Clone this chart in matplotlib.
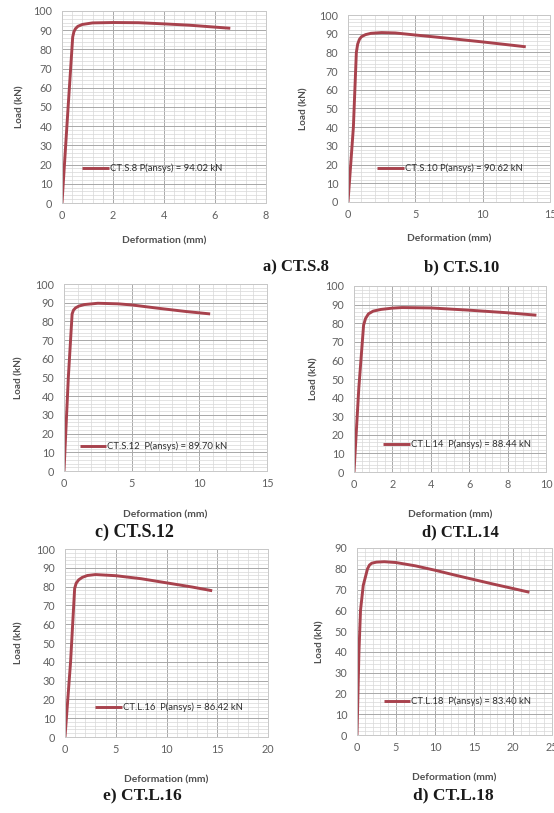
import matplotlib
matplotlib.use("Agg")
import matplotlib.pyplot as plt
from matplotlib.ticker import MultipleLocator

# ---- data ----
a_def = [0, 0.24, 0.42, 0.47, 0.53, 0.62, 0.8, 1.2, 2.0, 3.0, 4.0, 5.0, 6.0, 6.6]
a_load = [0, 50, 86.5, 89.3, 90.8, 92, 93, 93.8, 94.0, 93.9, 93.3, 92.6, 91.6, 91.0]
b_def = [0, 0.4, 0.62, 0.72, 0.85, 1.0, 1.3, 1.7, 2.5, 3.5, 5, 7.5, 10, 13.2]
b_load = [0, 40, 80, 84.5, 87, 88.4, 89.5, 90.2, 90.6, 90.4, 89.3, 87.5, 85.6, 83.0]
c_def = [0, 0.32, 0.6, 0.7, 0.85, 1.1, 1.5, 2.5, 4, 5, 7, 9, 10.8]
c_load = [0, 50, 84, 86, 87.2, 88.2, 89, 89.7, 89.4, 88.8, 87, 85.3, 84.0]
d_def = [0, 0.25, 0.5, 0.6, 0.75, 1.0, 1.4, 2.0, 2.5, 4, 6, 8, 9.5]
d_load = [0, 45, 79, 82.5, 85, 86.5, 87.4, 88.1, 88.4, 88.2, 87, 85.6, 84.3]
e_def = [0, 0.55, 0.95, 1.1, 1.35, 1.7, 2.2, 3, 5, 7.5, 10, 12.5, 14.5]
e_load = [0, 40, 79, 81.8, 83.6, 84.9, 85.9, 86.4, 85.8, 84.2, 82.0, 79.8, 77.8]
f_def = [0, 0.25, 0.45, 0.8, 1.35, 1.6, 1.9, 2.5, 3.5, 5, 7.5, 10, 12.5, 15, 17.5, 20, 22.1]
f_load = [0, 40, 60, 72, 80, 81.8, 82.7, 83.2, 83.4, 83.0, 81.4, 79.3, 77.0, 74.8, 72.6, 70.5, 68.7]

labels = ["CT.S.8 P(ansys) = 94.02 kN", "CT.S.10 P(ansys) = 90.62 kN",
          "CT.S.12  P(ansys) = 89.70 kN", "CT.L.14  P(ansys) = 88.44 kN",
          "CT.L.16  P(ansys) = 86.42 kN", "CT.L.18  P(ansys) = 83.40 kN"]
captions = ["a) CT.S.8", "b) CT.S.10", "c) CT.S.12", "d) CT.L.14", "e) CT.L.16", "d) CT.L.18"]
xmax = [8, 15, 15, 10, 20, 25]
xstep = [2, 5, 5, 2, 5, 5]
ymax = [100, 100, 100, 100, 100, 90]

series = [(a_def, a_load), (b_def, b_load), (c_def, c_load),
          (d_def, d_load), (e_def, e_load), (f_def, f_load)]

W, H = 554, 813
# axes boxes in pixels: left, right, top, bottom
boxes = [(62, 266, 11, 203), (348, 550, 15, 202), (64, 267, 284, 471),
         (354, 546, 286, 472), (65, 268, 549, 737), (357, 552, 548, 735)]
ylab_x = [24, 308, 23, 318, 23, 324]
xlab_y = [236, 234, 510, 510, 775, 773]
leg_pos = [(0.10, 0.18), (0.145, 0.18), (0.079, 0.13), (0.153, 0.15), (0.15, 0.157), (0.137, 0.18)]
cap_pos = [(296, 267), (462, 267), (134, 532), (460, 532), (142, 796), (453, 795)]
cap_size = [12, 12, 13, 12, 12.5, 12.5]

fig = plt.figure(figsize=(W / 100, H / 100), dpi=100)
font = "Lato"
tick_col = "#606060"
line_col = "#a8424d"

for i in range(6):
    l, r, t, b = boxes[i]
    ax = fig.add_axes([l / W, 1 - b / H, (r - l) / W, (b - t) / H])
    x, y = series[i]
    ax.plot(x, y, color=line_col, lw=2.1, label=labels[i], solid_capstyle="butt",
            solid_joinstyle="round")
    ax.set_xlim(0, xmax[i])
    ax.set_ylim(0, ymax[i])
    ax.xaxis.set_major_locator(MultipleLocator(xstep[i]))
    ax.xaxis.set_minor_locator(MultipleLocator(xstep[i] / 5))
    ax.yaxis.set_major_locator(MultipleLocator(10))
    ax.yaxis.set_minor_locator(MultipleLocator(2))
    ax.grid(which="major", color="#a8a8a8", lw=0.7)
    ax.grid(which="minor", color="#d8d8d8", lw=0.5)
    ax.set_axisbelow(True)
    for s in ax.spines.values():
        s.set_color("#c8c8c8")
        s.set_linewidth(0.7)
    ax.tick_params(which="both", length=0, labelsize=7.8, labelcolor=tick_col)
    ax.tick_params(axis="y", pad=7)
    ax.tick_params(axis="x", pad=5)
    for lab in ax.get_xticklabels() + ax.get_yticklabels():
        lab.set_fontfamily(font)
    ax.set_xlabel("Deformation (mm)", fontsize=7.4, fontweight="bold", color="#505050", family=font)
    ax.set_ylabel("Load (kN)", fontsize=7.2, fontweight="bold", color="#505050", family=font)
    ax.yaxis.set_label_coords((ylab_x[i] - l) / (r - l), 0.5)
    ax.xaxis.set_label_coords(0.5, (b - xlab_y[i]) / (b - t))
    leg = ax.legend(loc="center left", bbox_to_anchor=leg_pos[i], frameon=False,
                    borderpad=0, borderaxespad=0, handlelength=2.8, handletextpad=0.1,
                    prop={"family": font, "size": 6.8})
    for txt in leg.get_texts():
        txt.set_color("#303030")
    cx, cy = cap_pos[i]
    fig.text(cx / W, 1 - cy / H, captions[i], ha="center", va="center",
             family="Liberation Serif", fontweight="bold", fontsize=cap_size[i], color="#1a1a1a")

fig.savefig("out.png", dpi=100)
